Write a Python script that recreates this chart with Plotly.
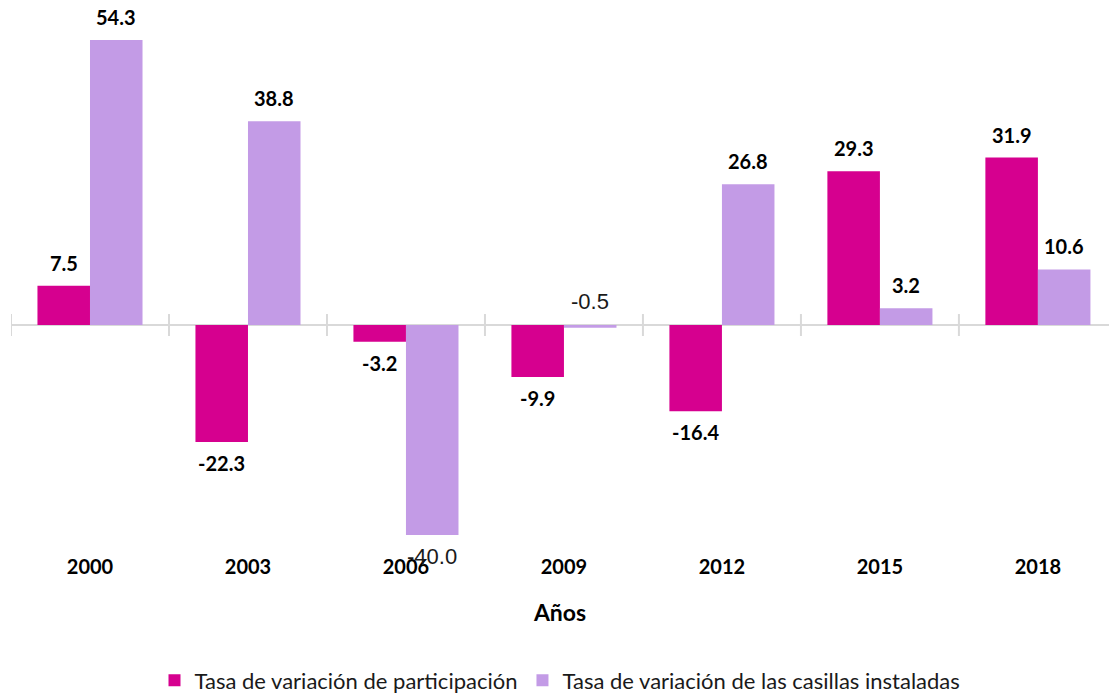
import plotly.graph_objects as go

# datos
anios = ["2000", "2003", "2006", "2009", "2012", "2015", "2018"]
participacion = [7.5, -22.3, -3.2, -9.9, -16.4, 29.3, 31.9]
casillas = [54.3, 38.8, -40.0, -0.5, 26.8, 3.2, 10.6]
nombres = ["Tasa de variación de participación",
           "Tasa de variación de las casillas instaladas"]

COLORES = ["#d6008f", "#c39be6"]
GRIS = "#d9d9d9"
FUENTE = "Lato"

# etiquetas que en el original salen sin negrita
SIN_NEGRITA = {(1, "2006"), (1, "2009")}

Y_MIN, Y_MAX = -41.9, 58.1
X_RANGE = [-0.5, 6.45]
BARGAP = 0.335
ANCHO_PX = 1098
px_cat = ANCHO_PX / (X_RANGE[1] - X_RANGE[0])
desp = px_cat * (1 - BARGAP) / 4

fig = go.Figure()
for i, serie in enumerate([participacion, casillas]):
    fig.add_trace(go.Bar(
        x=anios, y=serie, name=nombres[i],
        marker=dict(color=COLORES[i], line=dict(width=0)),
    ))

anotaciones = []
for i, serie in enumerate([participacion, casillas]):
    for j, (a, v) in enumerate(zip(anios, serie)):
        plano = (i, a) in SIN_NEGRITA
        arriba = v >= 0 or abs(v) < 1
        if plano:
            f = dict(family="Liberation Sans", size=22, color="#1a1a1a")
            txt = f"{v:.1f}"
        else:
            f = dict(family=FUENTE, size=20, color="#000000")
            txt = f"<b>{v:.1f}</b>"
        anotaciones.append(dict(
            x=j, y=max(v, 0) if arriba else v, xref="x", yref="y",
            text=txt, showarrow=False, font=f,
            xshift=(-desp if i == 0 else desp),
            yanchor="bottom" if arriba else "top",
            yshift=9 if arriba else -7,
        ))

# marcas del eje cero en los límites de categoría
marcas = []
for k in range(len(anios) + 1):
    marcas.append(dict(
        type="line", xref="x", yref="y", x0=k - 0.5, x1=k - 0.5,
        ysizemode="pixel", yanchor=0, y0=-11, y1=11,
        line=dict(color=GRIS, width=2), layer="below",
    ))

fig.update_layout(
    width=1109, height=695,
    margin=dict(l=11, r=0, t=20, b=150, autoexpand=False),
    paper_bgcolor="white", plot_bgcolor="white",
    font=dict(family=FUENTE, color="#000000"),
    barmode="group", bargap=BARGAP, bargroupgap=0,
    showlegend=True,
    legend=dict(orientation="h", x=0.5, xanchor="center", y=-0.258,
                yanchor="middle", font=dict(family=FUENTE, size=22,
                                            color="#1a1a1a"),
                itemwidth=30, tracegroupgap=0),
    xaxis=dict(
        type="category", range=X_RANGE, showgrid=False, showline=False,
        zeroline=False, ticks="", ticklabelstandoff=8, automargin=False,
        tickfont=dict(family=FUENTE, size=20, weight="bold"),
        title=dict(text="<b>Años</b>", standoff=27,
                   font=dict(family=FUENTE, size=23)),
    ),
    yaxis=dict(range=[Y_MIN, Y_MAX], visible=True, showgrid=False,
               showticklabels=False, showline=False, ticks="",
               automargin=False,
               zeroline=True, zerolinecolor=GRIS, zerolinewidth=2),
    annotations=anotaciones,
    shapes=marcas,
)

# sin el margen por defecto del <body>
fig.write_html("out.html", config={"displayModeBar": False},
               post_script="document.body.style.margin='0';")
